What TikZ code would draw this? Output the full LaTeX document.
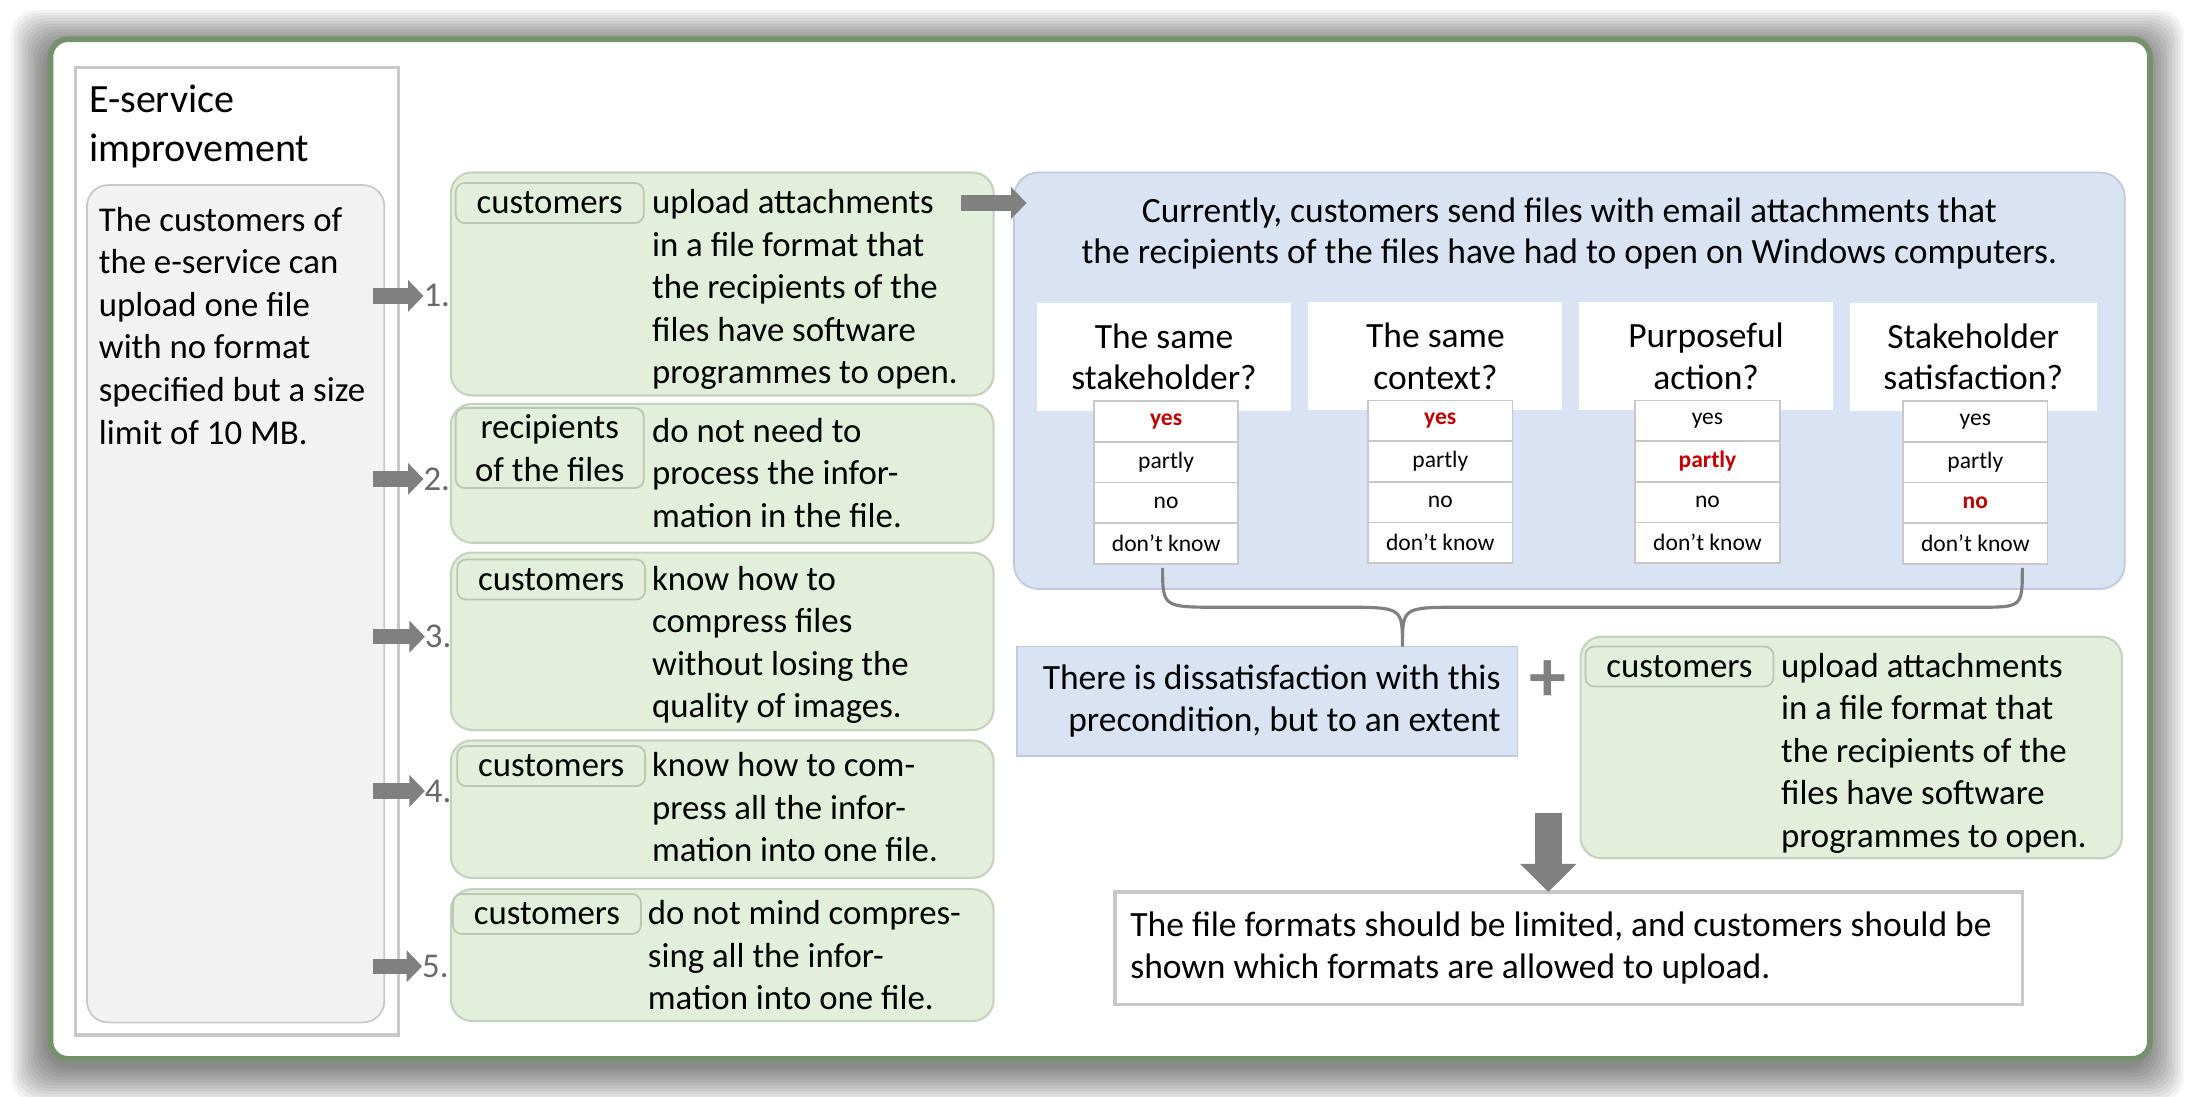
\documentclass[tikz,border=0pt]{standalone}
\usepackage{fontspec}
\setmainfont{Carlito}
\usetikzlibrary{positioning, arrows.meta}
\newlength{\pxu}
\setlength{\pxu}{0.014024cm}
\definecolor{framegreen}{RGB}{118,146,108}
\definecolor{boxgreen}{RGB}{226,239,218}
\definecolor{edgegreen}{RGB}{198,210,190}
\definecolor{boxblue}{RGB}{218,227,243}
\definecolor{edgeblue}{RGB}{192,202,220}
\definecolor{notegray}{RGB}{242,242,242}
\definecolor{edgegray}{RGB}{200,200,200}
\definecolor{numgray}{RGB}{105,105,105}
\definecolor{hitred}{RGB}{192,0,0}

\begin{document}
\begin{tikzpicture}[x=\pxu, y=-\pxu, every node/.style={inner sep=0pt, outer sep=0pt}, font=\fontsize{9.9}{12.1}\selectfont]
    \tikzstyle{outerframe} = [rectangle, draw=framegreen, line width=1.6pt, rounded corners=5pt, fill=white]
    \tikzstyle{panel} = [rectangle, draw=edgegray, line width=0.9pt]
    \tikzstyle{note} = [rectangle, draw=edgegray, fill=notegray, rounded corners=6pt, line width=0.5pt]
    \tikzstyle{greenbox} = [rectangle, draw=edgegreen, fill=boxgreen, rounded corners=6pt, line width=0.6pt]
    \tikzstyle{tab} = [rectangle, draw=edgegreen!85!gray, fill=boxgreen, rounded corners=2.5pt, line width=0.5pt, minimum width=134\pxu, minimum height=28.5\pxu, align=center]
    \tikzstyle{bluebox} = [rectangle, draw=edgeblue, fill=boxblue, rounded corners=7pt, line width=0.5pt]
    \tikzstyle{question} = [rectangle, fill=white, minimum width=181\pxu, minimum height=77\pxu, align=center, font=\fontsize{10.1}{11.8}\selectfont]
    \tikzstyle{cell} = [rectangle, draw=edgegray, fill=white, line width=0.5pt, minimum width=103\pxu, minimum height=29\pxu, font=\fontsize{6.7}{8}\selectfont]
    \tikzstyle{hit} = [text=hitred, font=\fontsize{6.7}{8}\selectfont\bfseries]
    \tikzstyle{textblock} = [align=left, anchor=base west]
    \tikzstyle{num} = [text=numgray, anchor=west]
    \tikzstyle{fatarrow} = [draw=gray, line width=4.4pt, -{Triangle[width=8.8pt, length=4.4pt]}]
    \tikzstyle{bigarrow} = [draw=gray, line width=7.6pt, -{Triangle[width=15.6pt, length=8pt]}]
    \tikzstyle{brace} = [draw=gray, line width=0.9pt]

    \useasboundingbox (0,0) rectangle (1568,782);
    \fill[white] (0,0) rectangle (1568,782);
    \foreach \d in {2,4,...,26}
        \fill[black, opacity=0.042, rounded corners=7pt] (34-\d,33-\d) rectangle (1531+\d,760+\d);

    \node (frame) [outerframe, minimum width=1497\pxu, minimum height=727\pxu] at (784.5,391.5) {};

    \node (panel) [panel, anchor=north west, minimum width=230\pxu, minimum height=690\pxu] at (54,48) {};
    \node (title) [textblock, font=\fontsize{11.4}{14}\selectfont] at (63.5,115) {E-service\\improvement};
    \node (note) [note, anchor=north west, minimum width=212\pxu, minimum height=597\pxu] at (62,132) {};
    \node (notetext) [textblock] at (70.5,316.6) {The customers of\\the e-service can\\upload one file\\with no format\\specified but a size\\limit of 10 MB.};

    \node (g1) [greenbox, anchor=north west, minimum width=387\pxu, minimum height=159\pxu] at (321.5,123) {};
    \node (tab1) [tab, anchor=north west] at ([xshift=3.5\pxu, yshift=-7.5\pxu]g1.north west) {customers};
    \node (say1) [textblock] at ([xshift=6\pxu, yshift=-128.8\pxu]tab1.east) {upload attachments\\in a file format that\\the recipients of the\\files have software\\programmes to open.};

    \node (g2) [greenbox, anchor=north west, minimum width=387\pxu, minimum height=99\pxu] at (321.5,288) {};
    \node (tab2) [tab, anchor=north west, minimum height=57\pxu] at ([xshift=3.5\pxu, yshift=-3\pxu]g2.north west) {recipients\\of the files};
    \node (say2) [textblock] at ([xshift=6\pxu, yshift=-85.1\pxu]tab2.north east) {do not need to\\process the infor-\\mation in the file.};

    \node (g3) [greenbox, anchor=north west, minimum width=387\pxu, minimum height=126.5\pxu] at (321.5,394) {};
    \node (tab3) [tab, anchor=north west] at ([xshift=4.5\pxu, yshift=-5\pxu]g3.north west) {customers};
    \node (say3) [textblock] at ([xshift=5\pxu, yshift=-98.5\pxu]tab3.east) {know how to\\compress files\\without losing the\\quality of images.};

    \node (g4) [greenbox, anchor=north west, minimum width=387\pxu, minimum height=98\pxu] at (321.5,528) {};
    \node (tab4) [tab, anchor=north west] at ([xshift=4.5\pxu, yshift=-4\pxu]g4.north west) {customers};
    \node (say4) [textblock] at ([xshift=5\pxu, yshift=-68.1\pxu]tab4.east) {know how to com-\\press all the infor-\\mation into one file.};

    \node (g5) [greenbox, anchor=north west, minimum width=387\pxu, minimum height=94\pxu] at (321.5,634) {};
    \node (tab5) [tab, anchor=north west] at ([xshift=1.5\pxu, yshift=-3.5\pxu]g5.north west) {customers};
    \node (say5) [textblock] at ([xshift=5\pxu, yshift=-68.1\pxu]tab5.east) {do not mind compres-\\sing all the infor-\\mation into one file.};

    \node (n1) [num] at (302,211) {1.};
    \node (n2) [num] at (302,341.5) {2.};
    \node (n3) [num] at (303,454) {3.};
    \node (n4) [num] at (303,564) {4.};
    \node (n5) [num] at (301,689) {5.};

    \node (current) [bluebox, anchor=north west, minimum width=792\pxu, minimum height=297\pxu] at (723,123) {};
    \node (currenttext) [align=center, anchor=base, font=\fontsize{10.1}{11.8}\selectfont] at (1119,188.1) {Currently, customers send files with email attachments that\\the recipients of the files have had to open on Windows computers.};

    \node (q1) [question] at (830,254.5) {The same\\stakeholder?};
    \node (q2) [question] at (1023.5,254) {The same\\context?};
    \node (q3) [question] at (1216.5,254) {Purposeful\\action?};
    \node (q4) [question, minimum width=176\pxu] at (1407,254.5) {Stakeholder\\satisfaction?};

    \node (t1a) [cell, hit, below=-7\pxu of q1, xshift=1.5\pxu] {yes};
    \node (t1b) [cell, below=0pt of t1a] {partly};
    \node (t1c) [cell, below=0pt of t1b] {no};
    \node (t1d) [cell, below=0pt of t1c] {don’t know};
    \node (t2a) [cell, hit, below=-7\pxu of q2, xshift=3.5\pxu] {yes};
    \node (t2b) [cell, below=0pt of t2a] {partly};
    \node (t2c) [cell, below=0pt of t2b] {no};
    \node (t2d) [cell, below=0pt of t2c] {don’t know};
    \node (t3a) [cell, below=-7\pxu of q3, xshift=1\pxu] {yes};
    \node (t3b) [cell, hit, below=0pt of t3a] {partly};
    \node (t3c) [cell, below=0pt of t3b] {no};
    \node (t3d) [cell, below=0pt of t3c] {don’t know};
    \node (t4a) [cell, below=-7\pxu of q4, xshift=1.5\pxu] {yes};
    \node (t4b) [cell, below=0pt of t4a] {partly};
    \node (t4c) [cell, hit, below=0pt of t4b] {no};
    \node (t4d) [cell, below=0pt of t4c] {don’t know};

    \node (dissat) [bluebox, rounded corners=0pt, anchor=north west, minimum width=357\pxu, minimum height=78\pxu] at (725,461) {};
    \node (dissattext) [align=right, anchor=east, font=\fontsize{10.1}{12.1}\selectfont] at ([xshift=-12\pxu]dissat.east) {There is dissatisfaction with this\\precondition, but to an extent};
    \node (plus) [text=gray, font=\fontsize{21}{21}\selectfont\bfseries] at (1104,485.5) {+};

    \node (g6) [greenbox, anchor=north west, minimum width=386\pxu, minimum height=158\pxu] at (1127,454) {};
    \node (tab6) [tab, anchor=north west] at ([xshift=3.5\pxu, yshift=-7\pxu]g6.north west) {customers};
    \node (say6) [textblock] at ([xshift=5.5\pxu, yshift=-128.8\pxu]tab6.east) {upload attachments\\in a file format that\\the recipients of the\\files have software\\programmes to open.};

    \node (result) [rectangle, draw=edgegray, line width=0.9pt, fill=white, anchor=north west, minimum width=647\pxu, minimum height=80\pxu] at (795,636) {};
    \node (resulttext) [align=left, anchor=west, font=\fontsize{10.1}{12.1}\selectfont] at ([xshift=11\pxu]result.west) {The file formats should be limited, and customers should be\\shown which formats are allowed to upload.};

    \coordinate (bl) at (829,405);
    \coordinate (br) at (1442,405);
    \coordinate (tip) at (1000,461);
    \coordinate (join) at (1104,580);

    \draw [fatarrow, shorten <=-8\pxu] (note.east |- n1.west) -- (n1.west);
    \draw [fatarrow, shorten <=-8\pxu] (note.east |- n2.west) -- (n2.west);
    \draw [fatarrow, shorten <=-8\pxu] (note.east |- n3.west) -- (n3.west);
    \draw [fatarrow, shorten <=-8\pxu] (note.east |- n4.west) -- (n4.west);
    \draw [fatarrow, shorten <=-8\pxu] (note.east |- n5.west) -- (n5.west);
    \draw [fatarrow, shorten <=-23\pxu, shorten >=-9\pxu] (g1.east |- tab1) -- (current.west |- tab1);
    \draw [brace] (bl) .. controls (829,433) .. (870,433) -- (958,433) .. controls (1000,433) .. (tip) .. controls (1000,433) .. (1042,433) -- (1410,433) .. controls (1442,433) .. (br);
    \draw [bigarrow] (join) -- (join |- result.north);
\end{tikzpicture}
\end{document}
